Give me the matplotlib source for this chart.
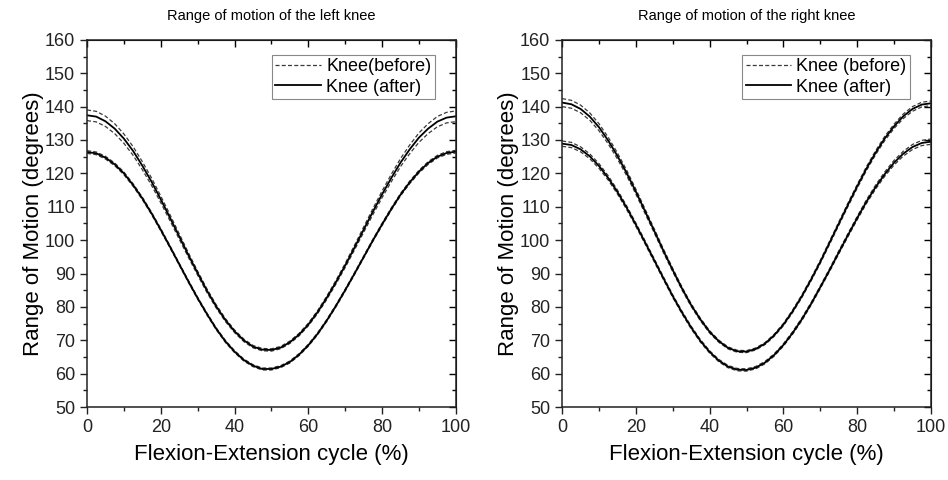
import matplotlib.pyplot as plt
from matplotlib.ticker import MultipleLocator

plt.rcParams['font.family'] = ['Liberation Sans', 'DejaVu Sans']

# gait cycle position (%), every 2.5 %
cycle = [i * 2.5 for i in range(41)]

# left knee, upper pair of curves (mean and spread)
left_upper = [137.4, 137.0, 135.6, 133.4, 130.4, 126.7, 122.3, 117.5, 112.2, 106.7,
              101.1, 95.5, 90.1, 84.9, 80.2, 76.1, 72.7, 70.0, 68.1, 67.2,
              67.1, 67.8, 69.4, 71.7, 74.7, 78.4, 82.7, 87.4, 92.4, 97.7,
              103.1, 108.5, 113.7, 118.6, 123.2, 127.2, 130.7, 133.4, 135.5, 136.7, 137.1]
left_upper_sd = [1.6, 1.58, 1.55, 1.48, 1.4, 1.3, 1.2, 1.1, 1.0, 0.9,
                 0.8, 0.7, 0.6, 0.55, 0.5, 0.45, 0.4, 0.38, 0.35, 0.35,
                 0.35, 0.35, 0.35, 0.38, 0.4, 0.45, 0.5, 0.55, 0.6, 0.7,
                 0.8, 0.9, 1.0, 1.1, 1.2, 1.3, 1.4, 1.48, 1.55, 1.58, 1.6]
# left knee, lower pair of curves
left_lower = [126.4, 126.0, 124.7, 122.7, 120.0, 116.5, 112.5, 108.0, 103.1, 98.0,
              92.8, 87.6, 82.6, 77.9, 73.5, 69.7, 66.6, 64.1, 62.4, 61.4,
              61.4, 62.1, 63.5, 65.7, 68.5, 71.9, 75.9, 80.3, 85.0, 89.9,
              94.9, 99.9, 104.7, 109.3, 113.6, 117.3, 120.5, 123.1, 125.0, 126.1, 126.5]
left_lower_sd = [0.4, 0.4, 0.4, 0.4, 0.4, 0.38, 0.35, 0.35, 0.35, 0.32,
                 0.3, 0.3, 0.3, 0.3, 0.3, 0.3, 0.3, 0.3, 0.3, 0.3,
                 0.3, 0.3, 0.3, 0.3, 0.3, 0.3, 0.3, 0.3, 0.3, 0.3,
                 0.3, 0.32, 0.35, 0.35, 0.35, 0.38, 0.4, 0.4, 0.4, 0.4, 0.4]

# right knee, upper pair of curves
right_upper = [141.2, 140.7, 139.3, 137.0, 133.8, 129.8, 125.2, 120.1, 114.5, 108.6,
               102.7, 96.7, 91.0, 85.5, 80.5, 76.2, 72.5, 69.7, 67.7, 66.7,
               66.6, 67.4, 69.0, 71.5, 74.7, 78.7, 83.2, 88.2, 93.5, 99.2,
               104.9, 110.6, 116.1, 121.4, 126.2, 130.5, 134.1, 137.1, 139.3, 140.6, 141.0]
right_upper_sd = [1.2, 1.18, 1.15, 1.1, 1.05, 0.98, 0.9, 0.82, 0.75, 0.68,
                  0.6, 0.55, 0.5, 0.45, 0.4, 0.38, 0.35, 0.32, 0.3, 0.3,
                  0.3, 0.3, 0.3, 0.32, 0.35, 0.38, 0.4, 0.42, 0.45, 0.48,
                  0.5, 0.52, 0.55, 0.58, 0.6, 0.62, 0.65, 0.68, 0.7, 0.7, 0.7]
# right knee, lower pair of curves
right_lower = [128.9, 128.5, 127.2, 125.1, 122.2, 118.6, 114.4, 109.7, 104.6, 99.3,
               93.9, 88.5, 83.2, 78.3, 73.8, 69.8, 66.5, 63.9, 62.1, 61.2,
               61.1, 61.8, 63.3, 65.6, 68.6, 72.2, 76.3, 80.9, 85.9, 91.0,
               96.3, 101.5, 106.6, 111.5, 115.9, 119.8, 123.2, 125.9, 127.9, 129.1, 129.5]
right_lower_sd = [0.8, 0.78, 0.75, 0.72, 0.7, 0.65, 0.6, 0.55, 0.5, 0.48,
                  0.45, 0.42, 0.4, 0.4, 0.4, 0.38, 0.35, 0.35, 0.35, 0.35,
                  0.35, 0.35, 0.35, 0.35, 0.35, 0.38, 0.4, 0.4, 0.4, 0.42,
                  0.45, 0.48, 0.5, 0.55, 0.6, 0.65, 0.7, 0.72, 0.75, 0.78, 0.8]

titles = ['Range of motion of the left knee', 'Range of motion of the right knee']
legend_labels = [['Knee(before)', 'Knee (after)'], ['Knee (before)', 'Knee (after)']]

DASHED = dict(color='#3a3a3a', lw=0.9, ls=(0, (3.2, 1.8)))
SOLID = dict(color='black', lw=1.3)


def draw_pair(ax, mean, sd):
    hi = [m + s for m, s in zip(mean, sd)]
    lo = [m - s for m, s in zip(mean, sd)]
    ax.plot(cycle, hi, **DASHED)
    ax.plot(cycle, lo, **DASHED)
    ax.plot(cycle, mean, **SOLID)


def style_axes(ax):
    ax.set_xlim(0, 100)
    ax.set_ylim(50, 160)
    ax.xaxis.set_major_locator(MultipleLocator(20))
    ax.xaxis.set_minor_locator(MultipleLocator(10))
    ax.yaxis.set_major_locator(MultipleLocator(10))
    ax.yaxis.set_minor_locator(MultipleLocator(5))
    ax.tick_params(which='both', direction='out', labelsize=13, width=1, colors='#222222')
    ax.tick_params(which='major', length=5)
    ax.tick_params(which='minor', length=3)
    for side in ax.spines.values():
        side.set_linewidth(1.1)
        side.set_color('#222222')
    # mirrored ticks on top and right, pointing inward
    top = ax.secondary_xaxis('top')
    top.set_xticks(range(0, 101, 20))
    top.xaxis.set_minor_locator(MultipleLocator(10))
    top.tick_params(which='both', direction='in', labeltop=False, width=1)
    top.tick_params(which='major', length=5)
    top.tick_params(which='minor', length=3)
    right = ax.secondary_yaxis('right')
    right.set_yticks(range(50, 161, 10))
    right.yaxis.set_minor_locator(MultipleLocator(5))
    right.tick_params(which='both', direction='in', labelright=False, width=1)
    right.tick_params(which='major', length=5)
    right.tick_params(which='minor', length=3)


fig = plt.figure(figsize=(9.48, 4.8), dpi=100)
ax_l = fig.add_axes([0.0918, 0.152, 0.389, 0.765])
ax_r = fig.add_axes([0.593, 0.152, 0.389, 0.765])

panels = [(ax_l, left_upper, left_upper_sd, left_lower, left_lower_sd),
          (ax_r, right_upper, right_upper_sd, right_lower, right_lower_sd)]

for i, (ax, up, up_sd, low, low_sd) in enumerate(panels):
    draw_pair(ax, up, up_sd)
    draw_pair(ax, low, low_sd)
    style_axes(ax)
    ax.set_title(titles[i], fontsize=10.5, pad=14)
    ax.set_xlabel('Flexion-Extension cycle (%)', fontsize=16, labelpad=6)
    ax.set_ylabel('Range of Motion (degrees)', fontsize=16, labelpad=1)
    h_before, = ax.plot([], [], **DASHED)
    h_after, = ax.plot([], [], **SOLID)
    leg = ax.legend([h_before, h_after], legend_labels[i], loc='upper right',
                    bbox_to_anchor=(0.943, 0.96), fontsize=13, fancybox=False,
                    edgecolor='#888888', framealpha=1, handlelength=2.5,
                    borderpad=0.2, labelspacing=0.2, handletextpad=0.3,
                    borderaxespad=0.0)
    leg.get_frame().set_linewidth(0.8)

fig.savefig('out.png', dpi=100)
